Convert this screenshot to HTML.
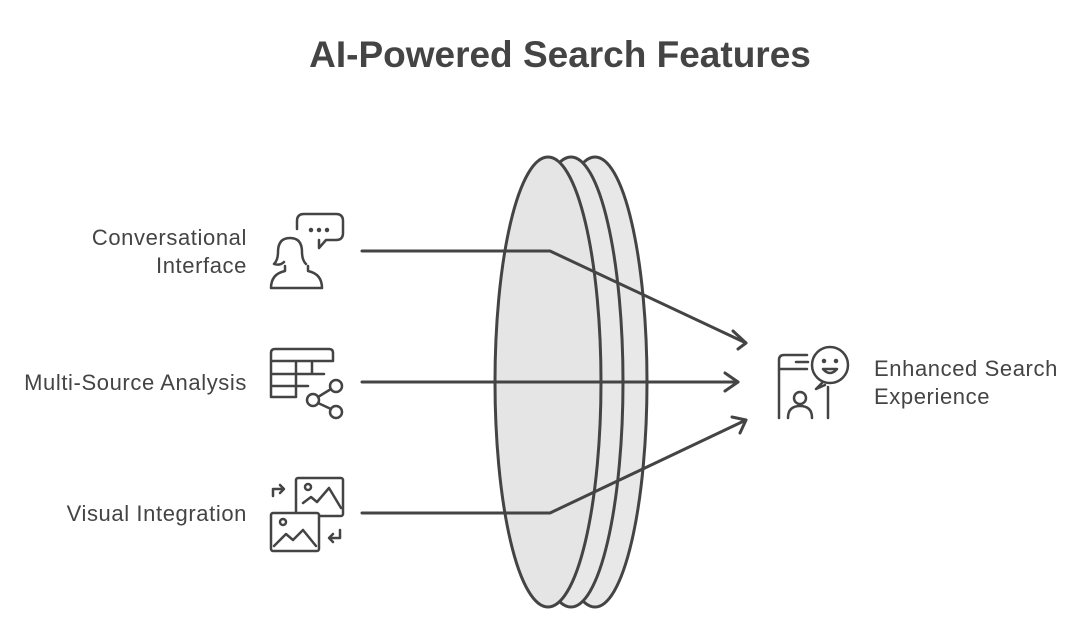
<!DOCTYPE html>
<html><head><style>
body{margin:0;width:1080px;height:628px;background:#fff;overflow:hidden;font-family:"Liberation Sans",sans-serif}
</style></head><body>
<svg width="1080" height="628" viewBox="0 0 1080 628" xmlns="http://www.w3.org/2000/svg">
<text x="560" y="67" text-anchor="middle" font-size="37" font-weight="bold" fill="#444">AI-Powered Search Features</text>
<g stroke="#444" stroke-width="3" fill="#e8e8e8">
<ellipse cx="595" cy="382" rx="52" ry="225"/>
<ellipse cx="571" cy="382" rx="52" ry="225"/>
<ellipse cx="548" cy="382" rx="53" ry="225" fill="#e5e5e5"/>
</g>
<g stroke="#444" stroke-width="3" fill="none" stroke-linejoin="round" stroke-linecap="round">
<polyline points="362,251 550,251 746,343"/>
<polyline points="733,331 746,343 738,349" />
<line x1="362" y1="382" x2="738" y2="382"/>
<polyline points="725,373 738,382 725,391"/>
<polyline points="362,513 550,513 746,420"/>
<polyline points="732,417 746,420 740,433"/>
</g>
<g font-size="22" fill="#444" text-anchor="end" letter-spacing="0.6">
<text x="247" y="245">Conversational</text>
<text x="247" y="273">Interface</text>
<text x="247" y="390">Multi-Source Analysis</text>
<text x="247" y="521">Visual Integration</text>
</g>
<g font-size="22" fill="#444" letter-spacing="0.6">
<text x="874" y="376">Enhanced Search</text>
<text x="874" y="404">Experience</text>
</g>
<g stroke="#444" stroke-width="2.5" fill="none" stroke-linecap="round" stroke-linejoin="round">
<path d="M297,229 v-8 q0,-7 7,-7 h32 q7,0 7,7 v12 q0,7 -7,7 h-10 l-7,8 v-8"/>
<circle cx="311" cy="230" r="1" fill="#444"/><circle cx="319" cy="230" r="1" fill="#444"/><circle cx="327" cy="230" r="1" fill="#444"/>
<path d="M290,238 q-12,0 -12,14 q0,8 -4,12 q6,2 10,-2 M290,238 q12,0 12,14 q0,8 4,12"/>
<path d="M285,266 v5 q-14,3 -14,17 h51 q0,-14 -14,-17 v-5"/>
<path d="M271,397 v-44 q0,-4 4,-4 h54 q4,0 4,4 v8 M271,361 h62 M271,374 h53 M271,386 h37 M296,361 v36 M271,397 h25 M312,361 v13"/>
<circle cx="336" cy="386" r="6"/><circle cx="313" cy="400" r="6"/><circle cx="336" cy="412" r="6"/>
<path d="M318,397 l13,-8 M318,403 l13,6"/>
<rect x="296" y="478" width="47" height="38" rx="2"/>
<circle cx="308" cy="487" r="3"/>
<path d="M303,503 l8,-6 6,5 12,-14 12,20"/>
<rect x="271" y="513" width="48" height="38" rx="2" fill="#fff"/>
<circle cx="283" cy="522" r="3"/>
<path d="M274,546 l12,-12 7,6 10,-10 13,16"/>
<path d="M273,496 v-7 h10 M280,485 l4,4 -4,4"/>
<path d="M340,530 v8 h-10 M333,534 l-4,4 4,4"/>
<path d="M779,418 v-58 q0,-5 5,-5 h23 M796,362 h12 M779,369 h28 M828,387 v31"/>
<circle cx="830" cy="365" r="18" fill="#fff"/>
<path d="M823,382 l-7,7 9,-4" fill="#fff"/>
<circle cx="824" cy="361" r="1" fill="#444"/><circle cx="836" cy="361" r="1" fill="#444"/>
<path d="M823,369 q7,8 14,0 z"/>
<circle cx="800" cy="398" r="6"/>
<path d="M788,418 q0,-12 12,-12 q12,0 12,12"/>
</g>
</svg>
</body></html>
